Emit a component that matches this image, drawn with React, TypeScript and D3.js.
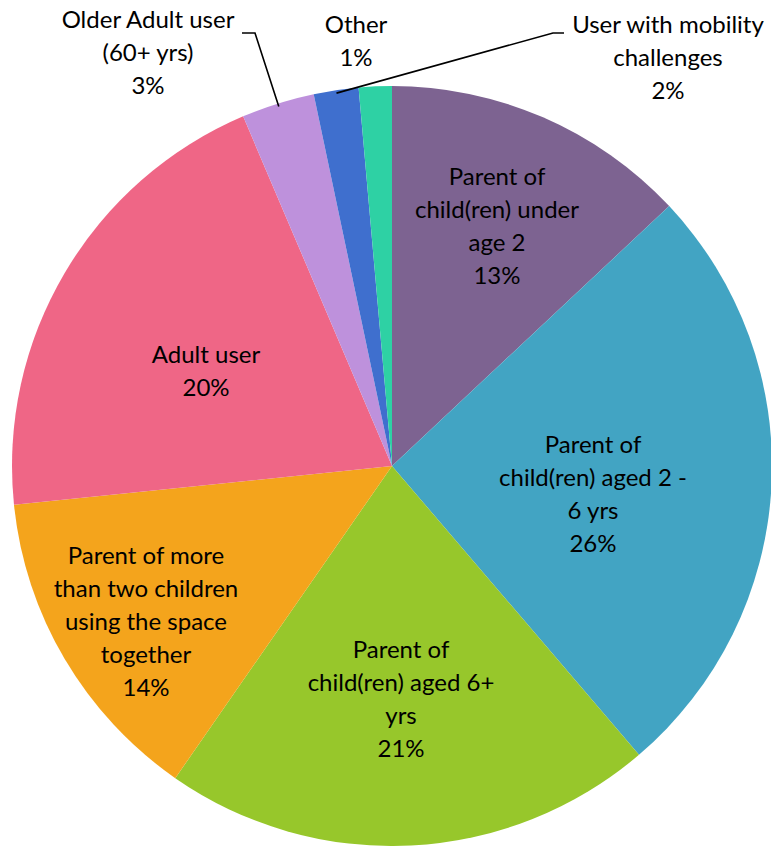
import React from 'react';
import * as d3 from 'd3';

// slice values (percent of respondents), clockwise from 12 o'clock
const categories = [
  'Parent of child(ren) under age 2',
  'Parent of child(ren) aged 2 - 6 yrs',
  'Parent of child(ren) aged 6+ yrs',
  'Parent of more than two children using the space together',
  'Adult user',
  'Older Adult user (60+ yrs)',
  'User with mobility challenges',
  'Other',
];
const values = [13.0, 25.7, 20.9, 13.7, 20.2, 3.1, 1.9, 1.4];
const colors = ['#7D6391', '#42A4C3', '#97C72B', '#F4A41C', '#EF6686', '#BE91DC', '#3F6FCE', '#2ED1A4'];

// label text lines (wrapped as in the original), percent added below
const labelLines = [
  ['Parent of', 'child(ren) under', 'age 2'],
  ['Parent of', 'child(ren) aged 2 -', '6 yrs'],
  ['Parent of', 'child(ren) aged 6+', 'yrs'],
  ['Parent of more', 'than two children', 'using the space', 'together'],
  ['Adult user'],
  ['Older Adult user', '(60+ yrs)'],
  ['User with mobility', 'challenges'],
  ['Other'],
];

const W = 771;
const H = 846;
const cx = 392;
const cy = 466;
const radius = 380;
const lineH = 33;

// label anchor: centre x and first line baseline, relative to pie centre
const labelAnchor: [number, number][] = [
  [105, -281],
  [201, -13],
  [9, 192],
  [-246, 98],
  [-186, -103],
  [-244, -438],
  [276, -433],
  [-36, -433],
];

// where the leader line leaves the label (x of the short horizontal tick)
const leaderStart: { [k: number]: [number, number] } = {
  5: [-150, -137],
  6: [172, 161],
};

export default function App() {
  const total = d3.sum(values);
  const pie = d3.pie<number>().sort(null).value((d) => d);
  const arcs = pie(values);
  const arc = d3.arc<d3.PieArcDatum<number>>().innerRadius(0).outerRadius(radius);

  // leader lines for the small slices outside the pie
  const leader = (i: number) => {
    const a = arcs[i];
    const mid = (a.startAngle + a.endAngle) / 2;
    const px = Math.sin(mid) * (radius - 3);
    const py = -Math.cos(mid) * (radius - 3);
    const [x0, x1] = leaderStart[i];
    const y0 = -433;
    return `M${x0},${y0}L${x1},${y0}L${px},${py}`;
  };

  return (
    <svg width={W} height={H} style={{ display: 'block', position: 'absolute', left: 0, top: 0 }}>
      <g transform={`translate(${cx},${cy})`}>
        {arcs.map((a, i) => (
          <path key={i} d={arc(a) || ''} fill={colors[i]} />
        ))}
        <path d={leader(5)} fill="none" stroke="#000" strokeWidth={1.6} />
        <path d={leader(6)} fill="none" stroke="#000" strokeWidth={1.6} />
        {arcs.map((a, i) => {
          const [lx, ly] = labelAnchor[i];
          const lines = [...labelLines[i], `${Math.round((values[i] / total) * 100)}%`];
          return (
            <text
              key={i}
              x={lx}
              y={ly}
              textAnchor="middle"
              fontFamily="Lato, 'Open Sans', sans-serif"
              fontSize={24}
              fill="#000"
            >
              {lines.map((t, j) => (
                <tspan key={j} x={lx} dy={j === 0 ? 0 : lineH}>
                  {t}
                </tspan>
              ))}
            </text>
          );
        })}
      </g>
    </svg>
  );
}
